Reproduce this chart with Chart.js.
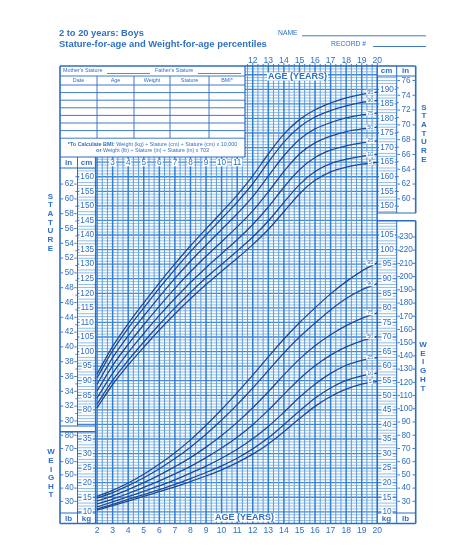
<!DOCTYPE html>
<html><head><meta charset="utf-8">
<script src="https://cdn.jsdelivr.net/npm/chart.js@4.4.0/dist/chart.umd.min.js"></script>
<style>html,body{margin:0;padding:0;background:#fff}canvas{display:block}</style>
</head><body>
<canvas id="c" width="474" height="555"></canvas>
<script>
// ---------- DATA ----------
const ages = [2,3,4,5,6,7,8,9,10,11,12,13,14,15,16,17,18,19,20];
const percentiles = ['5','10','25','50','75','90','95'];
// Stature-for-age (cm)
const stature5  = [80.7, 88.7, 95.4,101.5,107.4,112.9,118.1,123.0,127.6,132.0,136.7,141.9,148.0,154.1,158.8,161.7,163.3,164.3,164.9];
const stature10 = [82.0, 90.1, 97.0,103.3,109.3,115.0,120.3,125.3,129.9,134.5,139.3,144.8,151.2,157.3,161.8,164.5,166.0,167.0,167.7];
const stature25 = [84.1, 92.5, 99.7,106.2,112.4,118.2,123.7,128.8,133.6,138.4,143.6,149.6,156.4,162.4,166.6,169.1,170.6,171.6,172.3];
const stature50 = [86.5, 95.2,102.5,109.2,115.6,121.7,127.4,132.7,137.7,142.8,148.3,154.8,161.8,167.8,171.6,173.9,175.5,176.4,177.0];
const stature75 = [88.8, 97.9,105.4,112.2,118.8,125.1,131.0,136.5,141.9,147.3,153.2,160.2,167.2,172.8,176.4,178.6,180.2,181.2,181.8];
const stature90 = [91.0,100.3,108.0,115.0,121.8,128.2,134.3,140.0,145.6,151.3,157.6,165.0,171.9,177.1,180.5,182.7,184.3,185.5,186.2];
const stature95 = [92.3,101.8,109.6,116.7,123.6,130.1,136.3,142.1,147.8,153.7,160.3,167.8,174.6,179.6,183.0,185.3,187.1,188.3,189.0];
// Weight-for-age (kg)
const weight5  = [10.6,12.1,13.7,15.3,16.9,18.6,20.4,22.3,24.4,26.9,29.8,33.3,37.5,42.0,46.2,49.6,52.1,53.8,54.8];
const weight10 = [11.0,12.6,14.3,15.9,17.6,19.4,21.4,23.5,25.8,28.4,31.6,35.4,39.9,44.6,49.0,52.5,55.1,56.7,57.6];
const weight25 = [11.7,13.4,15.2,17.0,18.9,21.0,23.3,25.7,28.4,31.5,35.1,39.3,44.2,49.3,53.8,57.5,60.3,62.0,63.0];
const weight50 = [12.7,14.4,16.3,18.4,20.6,23.0,25.6,28.6,31.9,35.6,39.9,44.9,50.3,55.6,60.1,63.8,66.6,68.7,70.2];
const weight75 = [13.7,15.5,17.6,20.0,22.6,25.5,28.6,32.2,36.2,40.7,45.7,51.2,57.0,62.4,67.0,70.8,73.9,76.4,78.3];
const weight90 = [14.7,16.6,19.0,21.7,24.8,28.3,32.2,36.6,41.5,46.8,52.5,58.5,64.5,70.0,74.8,79.3,83.2,86.2,88.3];
const weight95 = [15.3,17.4,19.9,22.9,26.4,30.3,34.7,39.7,45.1,50.9,56.9,63.2,69.3,74.9,80.0,84.8,89.0,92.6,95.5];
// Tick labels
const ageTicksTop    = [12,13,14,15,16,17,18,19,20];
const ageTicksHeader = [3,4,5,6,7,8,9,10,11];
const ageTicksBottom = [2,3,4,5,6,7,8,9,10,11,12,13,14,15,16,17,18,19,20];
const statureCmLeft  = [80,85,90,95,100,105,110,115,120,125,130,135,140,145,150,155,160];
const statureInLeft  = [30,32,34,36,38,40,42,44,46,48,50,52,54,56,58,60,62];
const statureCmRight = [150,155,160,165,170,175,180,185,190];
const statureInRight = [60,62,64,66,68,70,72,74,76];
const weightKgLeft   = [10,15,20,25,30,35];
const weightLbLeft   = [30,40,50,60,70,80];
const weightKgRight  = [10,15,20,25,30,35,40,45,50,55,60,65,70,75,80,85,90,95,100,105];
const weightLbRight  = [30,40,50,60,70,80,90,100,110,120,130,140,150,160,170,180,190,200,210,220,230];

const statureSeries = [stature5,stature10,stature25,stature50,stature75,stature90,stature95];
const weightSeries  = [weight5,weight10,weight25,weight50,weight75,weight90,weight95];

// ---------- STYLE ----------
const TXT = '#2f70c4';
const FRAME = '#2c6cc4';
const CURVE = '#1d4a94';
const FONT = '"Liberation Sans", Arial, sans-serif';

const datasets = [];
statureSeries.forEach((s,i)=>datasets.push({label:'Stature P'+percentiles[i], yAxisID:'yS',
  data: ages.map((a,j)=>({x:a,y:s[j]}))}));
weightSeries.forEach((s,i)=>datasets.push({label:'Weight P'+percentiles[i], yAxisID:'yW',
  data: ages.map((a,j)=>({x:a,y:s[j]}))}));
datasets.forEach(d=>{d.borderColor=CURVE; d.borderWidth=1.3; d.pointRadius=0; d.fill=false; d.cubicInterpolationMode='monotone';});

// geometry of the framed sheet (pixels)
const G = {L:60, inR:77.5, cmR:95.5, gR:377.3, kgR:396.7, R:415.7, top:66, bot:523.5,
  tabR:245, tabB:157, hdrB:168, lGap1:426, lGap2:431.7, rGap1:213, rGap2:220.7, rHdrB:76, botRow:513};

function label(ctx, s, x, y, size, opt={}) {
  ctx.font = (opt.bold?'bold ':'') + size + 'px ' + FONT;
  ctx.textAlign = opt.align || 'center';
  ctx.textBaseline = 'middle';
  if (opt.bg) {
    const w = ctx.measureText(s).width;
    let x0 = x - w/2;
    if (ctx.textAlign==='left') x0 = x; if (ctx.textAlign==='right') x0 = x - w;
    ctx.fillStyle = '#fff';
    ctx.fillRect(x0-1, y-size*0.45, w+2, size*0.9);
  }
  ctx.fillStyle = opt.color || TXT;
  ctx.fillText(s, x, y);
}
function line(ctx, x1,y1,x2,y2,w,c){ctx.beginPath();ctx.moveTo(x1,y1);ctx.lineTo(x2,y2);ctx.lineWidth=w;ctx.strokeStyle=c;ctx.stroke();}
function fitText(ctx, s, x, y, width, bold, color){
  let size = 12;
  ctx.font = (bold?'bold ':'')+size+'px '+FONT;
  size = size*width/ctx.measureText(s).width;
  label(ctx, s, x, y, size, {bold, align:'left', color});
}

const sheetPlugin = {
  id:'sheet',
  beforeDatasetsDraw(chart){
    const {ctx, scales:{x, yS, yW}} = chart;
    ctx.save();
    // horizontal grid (1 cm / 1 kg)
    for (let v = Math.ceil(yS.min); v <= yS.max; v++) {
      const y = yS.getPixelForValue(v);
      const thick = v % 5 === 0;
      line(ctx, G.inR, y, G.kgR, y, thick?1.3:0.9, thick?'#4189d8':'#86b4e6');
    }
    // vertical grid (every 4 months, heavier each year)
    for (let k = 0; k <= 54; k++) {
      const a = 2 + k/3;
      const px = x.getPixelForValue(a);
      const yr = k % 3 === 0;
      line(ctx, px, G.top, px, G.bot, yr?1.5:1.0, yr?'#2f7ed6':'#5b9bdf');
      if (a >= 11.5) line(ctx, px, G.top-(yr?3:2), px, G.top, 0.9, FRAME);
    }
    ctx.fillStyle='#fff';
    // white areas
    ctx.fillRect(G.L-2, G.top-1, G.tabR-G.L+2, G.tabB-G.top+1);          // table
    ctx.fillRect(G.L, G.tabB, G.inR-G.L, G.bot-G.tabB);                   // left inch column
    ctx.fillRect(G.kgR, G.top, G.R-G.kgR, G.bot-G.top);                   // right inch column
    ctx.fillRect(G.L, G.lGap1, G.cmR-G.L, G.lGap2-G.lGap1);               // left gap
    ctx.fillRect(G.gR, G.rGap1, G.R-G.gR+1, G.rGap2-G.rGap1);             // right gap
    ctx.fillRect(G.L, G.botRow, G.cmR-G.L, G.bot-G.botRow);               // bottom-left cell
    ctx.fillRect(G.gR, G.botRow, G.R-G.gR, G.bot-G.botRow);               // bottom-right cell
    ctx.fillRect(G.gR, G.top, G.R-G.gR, G.rHdrB-G.top);                   // top-right cell
    ctx.fillRect(G.L, G.tabB, G.cmR-G.L, G.hdrB-G.tabB);                  // left header cell

    // frames
    const F = FRAME;
    line(ctx, G.L, G.top, G.tabR, G.top, 1.4, F);
    line(ctx, G.tabR, G.top, G.R, G.top, 1.6, F);
    line(ctx, G.L, G.top, G.L, G.bot, 1.6, F);
    line(ctx, G.L, G.bot, G.R, G.bot, 1.6, F);
    line(ctx, G.R, G.top, G.R, G.rGap1, 1.6, F);
    line(ctx, G.R, G.rGap2, G.R, G.bot, 1.6, F);
    line(ctx, G.tabR, G.top, G.tabR, G.tabB, 1.2, F);
    line(ctx, G.L, G.tabB, G.tabR, G.tabB, 1.2, F);
    line(ctx, G.L, G.hdrB, G.cmR, G.hdrB, 1.2, F);
    line(ctx, G.inR, G.tabB, G.inR, G.lGap1, 1.0, F);
    line(ctx, G.inR, G.lGap2, G.inR, G.bot, 1.0, F);
    line(ctx, G.cmR, G.tabB, G.cmR, G.bot, 1.2, F);
    line(ctx, G.gR, G.top, G.gR, G.bot, 1.2, F);
    line(ctx, G.kgR, G.top, G.kgR, G.rGap1, 1.0, F);
    line(ctx, G.kgR, G.rGap2, G.kgR, G.bot, 1.0, F);
    line(ctx, G.L, G.lGap1, G.cmR, G.lGap1, 1.2, F);
    line(ctx, G.L, G.lGap2, G.cmR, G.lGap2, 1.6, F);
    line(ctx, G.gR, G.rGap1, G.R, G.rGap1, 1.2, F);
    line(ctx, G.gR, G.rGap2, G.R, G.rGap2, 1.6, F);
    line(ctx, G.L, G.botRow, G.cmR, G.botRow, 1.0, F);
    line(ctx, G.gR, G.botRow, G.R, G.botRow, 1.0, F);
    line(ctx, G.gR, G.rHdrB, G.R, G.rHdrB, 1.0, F);

    // ---- table ----
    const tf = 5.4;
    label(ctx, "Mother's Stature", 63, 71, tf, {align:'left'});
    line(ctx, 107, 73.5, 150, 73.5, 0.8, F);
    label(ctx, "Father's Stature", 155, 71, tf, {align:'left'});
    line(ctx, 198, 73.5, 241, 73.5, 0.8, F);
    line(ctx, G.L, 76, G.tabR, 76, 0.9, F);
    const cols = [G.L, 97, 134, 170, 209, G.tabR];
    const heads = ['Date','Age','Weight','Stature','BMI*'];
    heads.forEach((h,i)=>label(ctx, h, (cols[i]+cols[i+1])/2, 80.6, tf));
    for (let r = 0; r < 8; r++) line(ctx, G.L, 85 + r*7.6, G.tabR, 85 + r*7.6, 0.9, F);
    for (let i = 1; i < 5; i++) line(ctx, cols[i], 76, cols[i], 138.2, 0.9, F);
    ctx.font = 'bold '+tf+'px '+FONT;
    const b1 = '*To Calculate BMI:', b1w = ctx.measureText(b1).width;
    const r1 = ' Weight (kg) ÷ Stature (cm) ÷ Stature (cm) x 10,000';
    ctx.font = tf+'px '+FONT;
    const r1w = ctx.measureText(r1).width;
    const sx = (G.L+G.tabR)/2 - (b1w+r1w)/2;
    label(ctx, b1, sx, 144.3, tf, {bold:true, align:'left'});
    label(ctx, r1, sx+b1w, 144.3, tf, {align:'left'});
    ctx.font = 'bold '+tf+'px '+FONT;
    const b2 = 'or', b2w = ctx.measureText(b2).width;
    const r2 = ' Weight (lb) ÷ Stature (in) ÷ Stature (in) x 703';
    ctx.font = tf+'px '+FONT;
    const r2w = ctx.measureText(r2).width;
    const sx2 = (G.L+G.tabR)/2 - (b2w+r2w)/2;
    label(ctx, b2, sx2, 151, tf, {bold:true, align:'left'});
    label(ctx, r2, sx2+b2w, 151, tf, {align:'left'});

    // ---- header row / column heads ----
    label(ctx, 'in', 68.5, 162.6, 8, {bold:true});
    label(ctx, 'cm', 86.5, 162.6, 8, {bold:true});
    ageTicksHeader.forEach(a=>label(ctx, String(a), x.getPixelForValue(a), 162.6, 8.2, {bg:true}));
    label(ctx, 'cm', 386.5, 71.2, 8, {bold:true});
    label(ctx, 'in', 405.5, 71.2, 8, {bold:true});
    label(ctx, 'lb', 68.5, 518.5, 8, {bold:true});
    label(ctx, 'kg', 86.5, 518.5, 8, {bold:true});
    label(ctx, 'kg', 386.5, 518.5, 8, {bold:true});
    label(ctx, 'lb', 405.5, 518.5, 8, {bold:true});

    // ---- axis labels ----
    const fs = 8.2;
    statureCmLeft.forEach(v=>label(ctx, String(v), 87.2, yS.getPixelForValue(v), fs, {bg:true}));
    statureCmRight.forEach(v=>label(ctx, String(v), 387, yS.getPixelForValue(v), fs, {bg:true}));
    weightKgLeft.forEach(v=>label(ctx, String(v), 87.2, yW.getPixelForValue(v), fs, {bg:true}));
    weightKgRight.forEach(v=>label(ctx, String(v), 387, yW.getPixelForValue(v), fs, {bg:true}));
    const inchTicks = (vals, x0, x1, cx, conv, scale) => {
      vals.forEach(v=>{
        const y = scale.getPixelForValue(v*conv);
        label(ctx, String(v), cx, y, fs);
        line(ctx, x0+0.8, y, x0+3.2, y, 0.9, F);
        line(ctx, x1-3.2, y, x1-0.8, y, 0.9, F);
      });
    };
    inchTicks(statureInLeft, G.L, G.inR, 69.2, 2.54, yS);
    inchTicks(statureInRight, G.kgR, G.R, 406, 2.54, yS);
    inchTicks(weightLbLeft, G.L, G.inR, 69.2, 0.45359, yW);
    inchTicks(weightLbRight, G.kgR, G.R, 406, 0.45359, yW);
    // odd-inch small ticks
    for (let v = 31; v <= 63; v += 2) { const y = yS.getPixelForValue(v*2.54); if (y > G.hdrB+2 && y < G.lGap1-2) line(ctx, G.inR-2.2, y, G.inR, y, 0.8, F); }
    for (let v = 59; v <= 77; v += 2) { const y = yS.getPixelForValue(v*2.54); if (y > G.rHdrB+2 && y < G.rGap1-2) line(ctx, G.kgR, y, G.kgR+2.2, y, 0.8, F); }

    // ---- age axis labels ----
    ageTicksTop.forEach(a=>label(ctx, String(a), x.getPixelForValue(a), 60.5, 8.6));
    ageTicksBottom.forEach(a=>label(ctx, String(a), x.getPixelForValue(a), 531, 8.6));
    // AGE (YEARS)
    label(ctx, 'AGE (YEARS)', 297.5, 76.5, 9, {bold:true, bg:true});
    label(ctx, 'AGE (YEARS)', 244.5, 517.5, 9, {bold:true, bg:true});

    // ---- vertical words ----
    const vword = (w, cx, y0, step) => [...w].forEach((ch,i)=>label(ctx, ch, cx, y0+i*step, 8, {bold:true}));
    vword('STATURE', 50.5, 196.5, 8.65);
    vword('WEIGHT', 51, 452, 8.65);
    vword('STATURE', 424, 107.5, 8.65);
    vword('WEIGHT', 423, 344.5, 8.8);

    // ---- titles ----
    fitText(ctx, '2 to 20 years: Boys', 59, 33, 85, true, TXT);
    fitText(ctx, 'Stature-for-age and Weight-for-age percentiles', 59, 44.5, 208, true, TXT);
    label(ctx, 'NAME', 278, 33.5, 6.8, {align:'left'});
    line(ctx, 302, 35.8, 426, 35.8, 0.9, F);
    label(ctx, 'RECORD #', 331, 44.5, 6.8, {align:'left'});
    line(ctx, 373, 46.5, 426, 46.5, 0.9, F);
    ctx.restore();
  },
  afterDatasetsDraw(chart){
    const {ctx, scales:{x, yS, yW}} = chart;
    ctx.save();
    const lx = x.getPixelForValue(19.55);
    const put = (series, scale) => series.forEach((s,i)=>{
      label(ctx, percentiles[i], lx, scale.getPixelForValue(s[s.length-1]), 5.6, {bg:true});
    });
    put(statureSeries, yS);
    put(weightSeries, yW);
    ctx.restore();
  }
};

new Chart(document.getElementById('c'), {
  type:'line',
  data:{datasets},
  options:{
    responsive:false, animation:false, devicePixelRatio:1,
    layout:{padding:{left:G.cmR, right:474-G.gR, top:G.top, bottom:555-G.bot}},
    plugins:{legend:{display:false}, tooltip:{enabled:false}},
    scales:{
      x:{type:'linear', min:1.9, max:20, display:false},
      yS:{type:'linear', min:41, max:198, display:false},
      yW:{type:'linear', min:6, max:163, display:false}
    }
  },
  plugins:[sheetPlugin]
});
</script>
</body></html>
